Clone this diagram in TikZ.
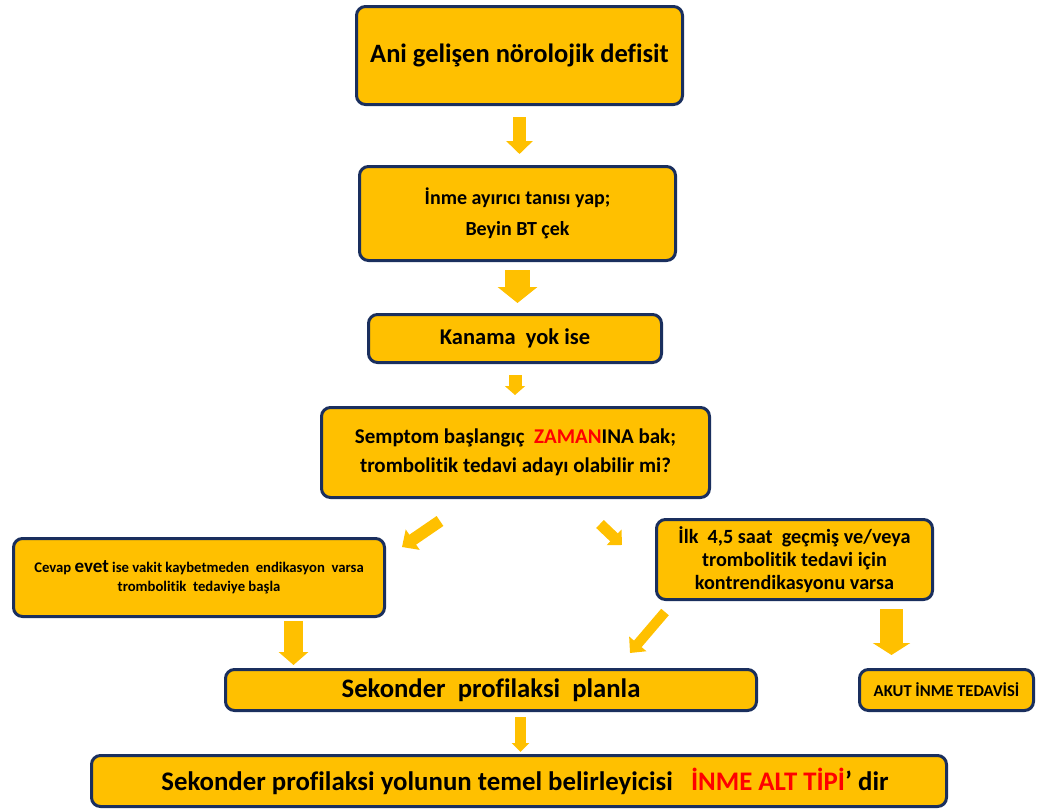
\documentclass[tikz,border=0pt]{standalone}
\usepackage{fontspec}
\setmainfont{Carlito}[Ligatures=NoCommon]
\usepackage{tikz}
\usetikzlibrary{arrows.meta, positioning, calc}
\definecolor{gold}{HTML}{FFC000}
\definecolor{navy}{HTML}{1A2F5E}
\definecolor{hot}{HTML}{FF0000}

\begin{document}
\begin{tikzpicture}[x=1pt, y=-1pt,
    box/.style={draw=navy, line width=3pt, fill=gold, rounded corners=9pt,
        align=center, inner sep=0pt},
    fs/.style 2 args={font=\bfseries\fontsize{#1}{#2}\selectfont},
    fat/.style n args={3}{draw=gold, line width=#1,
        -{Triangle[width=#2, length=#3]}}]
    \useasboundingbox (0,0) rectangle (1045,811);
    % Main column
    \node[box, fs={26.5}{30}, minimum width=326pt, minimum height=98pt] (ani) at (519.5,55.5)
        {Ani gelişen nörolojik defisit};
    \node[box, fs={20}{31}, minimum width=316pt, minimum height=94pt] (inme) at (517.5,213.5)
        {İnme ayırıcı tanısı yap;\\Beyin BT çek};
    \node[box, fs={22.5}{26}, minimum width=293pt, minimum height=48pt] (kanama) at (515,338.5)
        {Kanama\ \ yok ise};
    \node[box, fs={21}{29}, minimum width=388pt, minimum height=90pt] (semptom) at (515.5,452.5)
        {Semptom başlangıç\ \ \textcolor{hot}{ZAMAN}INA bak;\\trombolitik tedavi adayı olabilir mi?};
    % Two branches
    \node[box, fs={14.7}{19}, minimum width=371pt, minimum height=78pt] (cevap) at (199,577.5)
        {Cevap {\fontsize{19}{19}\selectfont evet} ise vakit kaybetmeden\ \ endikasyon\ \ varsa\\
         trombolitik\ \ tedaviye başla};
    \node[box, fs={20.2}{23}, minimum width=276pt, minimum height=80pt] (ilk) at (794.5,559.5)
        {İlk\ \ 4,5 saat\ \ geçmiş ve/veya\\trombolitik tedavi için\\kontrendikasyonu varsa};
    \node[box, fs={26.7}{30}, minimum width=531pt, minimum height=41pt] (sekonder) at (491,690)
        {Sekonder\ \ profilaksi\ \ planla};
    \node[box, fs={16.6}{19}, minimum width=174pt, minimum height=41pt] (akut) at (946.5,690)
        {AKUT İNME TEDAVİSİ};
    \node[box, fs={26.8}{30}, minimum width=855pt, minimum height=51pt] (alt) at (519,781)
        {\hspace{12pt}Sekonder profilaksi yolunun temel belirleyicisi\ \ \ \textcolor{hot}{İNME ALT TİPİ}’ dir};
    % Block arrows
    \draw[fat={13pt}{26pt}{13pt}, shorten <=11pt, shorten >=11pt]
        (ani.south) -- (ani.south |- inme.north);
    \draw[fat={25pt}{39pt}{16pt}, shorten <=8pt, shorten >=10pt]
        (inme.south) -- (inme.south |- kanama.north);
    \draw[fat={13pt}{20pt}{9pt}, shorten <=11pt, shorten >=11pt]
        (kanama.south) -- (kanama.south |- semptom.north);
    \coordinate (la) at (440,521);
    \coordinate (lb) at (402,547);
    \draw[fat={12pt}{24pt}{13pt}] (la) -- (lb);
    \coordinate (ra) at (600,524);
    \coordinate (rb) at (622,545);
    \draw[fat={11pt}{21pt}{11pt}] (ra) -- (rb);
    \coordinate (c1) at ([xshift=94.5pt]cevap.south);
    \draw[fat={19pt}{29pt}{13pt}, shorten <=3pt, shorten >=3pt]
        (c1) -- (c1 |- sekonder.north);
    \coordinate (ia) at (665,612);
    \coordinate (ib) at (630,653);
    \draw[fat={10pt}{22pt}{12pt}] (ia) -- (ib);
    \coordinate (i1) at ([xshift=97pt]ilk.south);
    \draw[fat={23pt}{37pt}{12pt}, shorten <=8pt, shorten >=13pt]
        (i1) -- (i1 |- akut.north);
    \coordinate (s1) at ([xshift=29.5pt]sekonder.south);
    \draw[fat={11pt}{17pt}{9pt}, shorten <=5pt, shorten >=2pt]
        (s1) -- (s1 |- alt.north);
\end{tikzpicture}
\end{document}
